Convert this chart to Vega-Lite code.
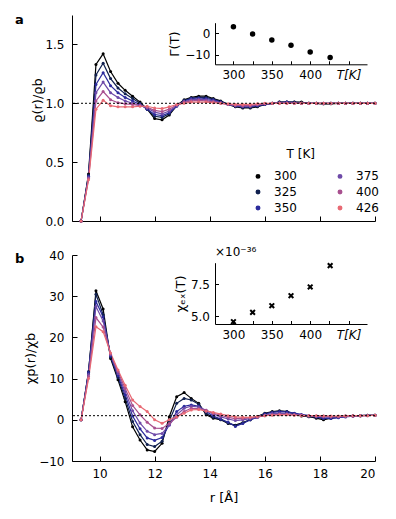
{
"$schema": "https://vega.github.io/schema/vega-lite/v6.json",
"padding": {"left": 15, "top": 14, "right": 5, "bottom": 5},
"config": {
  "font": "DejaVu Sans",
  "view": {"stroke": null},
  "axis": {"grid": false, "domainColor": "#000", "tickColor": "#000", "labelColor": "#000", "titleColor": "#000", "labelFontSize": 12, "titleFontSize": 13, "titleFontWeight": "normal", "domainWidth": 1, "tickWidth": 1}
},
"datasets": {
"prof": [
{"T":"300","r":9.33,"rho":0,"chi":0},{"T":"300","r":9.6,"rho":0.4,"chi":11.5},{"T":"300","r":9.87,"rho":1.33,"chi":31.3},{"T":"300","r":10.13,"rho":1.42,"chi":26.9},{"T":"300","r":10.4,"rho":1.27,"chi":14.9},{"T":"300","r":10.67,"rho":1.17,"chi":9.7},{"T":"300","r":10.93,"rho":1.11,"chi":4.4},{"T":"300","r":11.2,"rho":1.06,"chi":-1.7},{"T":"300","r":11.47,"rho":1.01,"chi":-4.9},{"T":"300","r":11.73,"rho":0.95,"chi":-7.3},{"T":"300","r":12,"rho":0.87,"chi":-7.7},{"T":"300","r":12.27,"rho":0.86,"chi":-5.7},{"T":"300","r":12.53,"rho":0.9,"chi":0.75},{"T":"300","r":12.8,"rho":0.98,"chi":5.6},{"T":"300","r":13.07,"rho":1.03,"chi":6.6},{"T":"300","r":13.33,"rho":1.05,"chi":5.2},{"T":"300","r":13.6,"rho":1.06,"chi":4.0},{"T":"300","r":13.87,"rho":1.06,"chi":1.2},{"T":"300","r":14.13,"rho":1.04,"chi":0.4},{"T":"300","r":14.4,"rho":1.02,"chi":0},{"T":"300","r":14.67,"rho":0.99,"chi":-0.9},{"T":"300","r":14.93,"rho":0.97,"chi":-1.3},{"T":"300","r":15.2,"rho":0.96,"chi":-0.7},{"T":"300","r":15.47,"rho":0.96,"chi":0},{"T":"300","r":15.73,"rho":0.97,"chi":0.8},{"T":"300","r":16,"rho":0.99,"chi":1.6},{"T":"300","r":16.27,"rho":1.0,"chi":2.0},{"T":"300","r":16.53,"rho":1.01,"chi":2.2},{"T":"300","r":16.8,"rho":1.01,"chi":2.0},{"T":"300","r":17.07,"rho":1.01,"chi":1.4},{"T":"300","r":17.33,"rho":1.01,"chi":0.9},{"T":"300","r":17.6,"rho":1.0,"chi":0.75},{"T":"300","r":17.87,"rho":1.0,"chi":0.4},{"T":"300","r":18.13,"rho":0.995,"chi":0},{"T":"300","r":18.4,"rho":0.995,"chi":0.4},{"T":"300","r":18.67,"rho":1.0,"chi":0.8},{"T":"300","r":18.93,"rho":1.0,"chi":0.9},{"T":"300","r":19.2,"rho":1.0,"chi":1.0},{"T":"300","r":19.47,"rho":1.0,"chi":1.0},{"T":"300","r":19.73,"rho":1.0,"chi":1.1},{"T":"300","r":20,"rho":1.0,"chi":1.1},
{"T":"325","r":9.33,"rho":0,"chi":0},{"T":"325","r":9.6,"rho":0.39,"chi":11.7},{"T":"325","r":9.87,"rho":1.24,"chi":30.5},{"T":"325","r":10.13,"rho":1.34,"chi":25.5},{"T":"325","r":10.4,"rho":1.21,"chi":15.2},{"T":"325","r":10.67,"rho":1.13,"chi":10.2},{"T":"325","r":10.93,"rho":1.08,"chi":5.2},{"T":"325","r":11.2,"rho":1.04,"chi":-0.4},{"T":"325","r":11.47,"rho":1.0,"chi":-3.6},{"T":"325","r":11.73,"rho":0.95,"chi":-6.0},{"T":"325","r":12,"rho":0.89,"chi":-6.5},{"T":"325","r":12.27,"rho":0.88,"chi":-5.2},{"T":"325","r":12.53,"rho":0.91,"chi":-0.3},{"T":"325","r":12.8,"rho":0.98,"chi":4.0},{"T":"325","r":13.07,"rho":1.025,"chi":5.2},{"T":"325","r":13.33,"rho":1.045,"chi":4.8},{"T":"325","r":13.6,"rho":1.05,"chi":3.8},{"T":"325","r":13.87,"rho":1.05,"chi":1.5},{"T":"325","r":14.13,"rho":1.035,"chi":0.6},{"T":"325","r":14.4,"rho":1.015,"chi":0.1},{"T":"325","r":14.67,"rho":0.99,"chi":-0.8},{"T":"325","r":14.93,"rho":0.975,"chi":-1.4},{"T":"325","r":15.2,"rho":0.965,"chi":-0.8},{"T":"325","r":15.47,"rho":0.965,"chi":0},{"T":"325","r":15.73,"rho":0.975,"chi":0.7},{"T":"325","r":16,"rho":0.99,"chi":1.5},{"T":"325","r":16.27,"rho":1.0,"chi":1.9},{"T":"325","r":16.53,"rho":1.01,"chi":2.1},{"T":"325","r":16.8,"rho":1.01,"chi":2.0},{"T":"325","r":17.07,"rho":1.01,"chi":1.5},{"T":"325","r":17.33,"rho":1.005,"chi":1.1},{"T":"325","r":17.6,"rho":1.0,"chi":0.8},{"T":"325","r":17.87,"rho":1.0,"chi":0.6},{"T":"325","r":18.13,"rho":0.995,"chi":0.3},{"T":"325","r":18.4,"rho":1.0,"chi":0.4},{"T":"325","r":18.67,"rho":1.0,"chi":0.6},{"T":"325","r":18.93,"rho":1.0,"chi":0.8},{"T":"325","r":19.2,"rho":1.0,"chi":0.9},{"T":"325","r":19.47,"rho":1.0,"chi":1.0},{"T":"325","r":19.73,"rho":1.0,"chi":1.1},{"T":"325","r":20,"rho":1.0,"chi":1.1},
{"T":"350","r":9.33,"rho":0,"chi":0},{"T":"350","r":9.6,"rho":0.38,"chi":11.5},{"T":"350","r":9.87,"rho":1.16,"chi":28.7},{"T":"350","r":10.13,"rho":1.26,"chi":25.0},{"T":"350","r":10.4,"rho":1.15,"chi":15.5},{"T":"350","r":10.67,"rho":1.09,"chi":10.7},{"T":"350","r":10.93,"rho":1.05,"chi":6.0},{"T":"350","r":11.2,"rho":1.02,"chi":0.9},{"T":"350","r":11.47,"rho":0.99,"chi":-2.2},{"T":"350","r":11.73,"rho":0.95,"chi":-4.4},{"T":"350","r":12,"rho":0.905,"chi":-5.0},{"T":"350","r":12.27,"rho":0.895,"chi":-4.3},{"T":"350","r":12.53,"rho":0.92,"chi":-1.2},{"T":"350","r":12.8,"rho":0.975,"chi":2.0},{"T":"350","r":13.07,"rho":1.02,"chi":3.3},{"T":"350","r":13.33,"rho":1.04,"chi":3.6},{"T":"350","r":13.6,"rho":1.045,"chi":3.3},{"T":"350","r":13.87,"rho":1.04,"chi":2.0},{"T":"350","r":14.13,"rho":1.03,"chi":0.9},{"T":"350","r":14.4,"rho":1.01,"chi":0.2},{"T":"350","r":14.67,"rho":0.99,"chi":-0.6},{"T":"350","r":14.93,"rho":0.977,"chi":-1.6},{"T":"350","r":15.2,"rho":0.97,"chi":-0.9},{"T":"350","r":15.47,"rho":0.97,"chi":0},{"T":"350","r":15.73,"rho":0.98,"chi":0.6},{"T":"350","r":16,"rho":0.99,"chi":1.4},{"T":"350","r":16.27,"rho":1.0,"chi":1.8},{"T":"350","r":16.53,"rho":1.005,"chi":2.0},{"T":"350","r":16.8,"rho":1.01,"chi":1.9},{"T":"350","r":17.07,"rho":1.005,"chi":1.6},{"T":"350","r":17.33,"rho":1.0,"chi":1.3},{"T":"350","r":17.6,"rho":1.0,"chi":1.0},{"T":"350","r":17.87,"rho":1.0,"chi":0.7},{"T":"350","r":18.13,"rho":1.0,"chi":0.4},{"T":"350","r":18.4,"rho":1.0,"chi":0.3},{"T":"350","r":18.67,"rho":1.0,"chi":0.5},{"T":"350","r":18.93,"rho":1.0,"chi":0.7},{"T":"350","r":19.2,"rho":1.0,"chi":0.9},{"T":"350","r":19.47,"rho":1.0,"chi":1.0},{"T":"350","r":19.73,"rho":1.0,"chi":1.05},{"T":"350","r":20,"rho":1.0,"chi":1.1},
{"T":"375","r":9.33,"rho":0,"chi":0},{"T":"375","r":9.6,"rho":0.37,"chi":11.0},{"T":"375","r":9.87,"rho":1.09,"chi":27.5},{"T":"375","r":10.13,"rho":1.18,"chi":24.0},{"T":"375","r":10.4,"rho":1.09,"chi":15.8},{"T":"375","r":10.67,"rho":1.05,"chi":11.2},{"T":"375","r":10.93,"rho":1.02,"chi":6.8},{"T":"375","r":11.2,"rho":1.0,"chi":2.2},{"T":"375","r":11.47,"rho":0.985,"chi":-0.8},{"T":"375","r":11.73,"rho":0.96,"chi":-2.8},{"T":"375","r":12,"rho":0.925,"chi":-3.6},{"T":"375","r":12.27,"rho":0.91,"chi":-3.3},{"T":"375","r":12.53,"rho":0.935,"chi":-1.3},{"T":"375","r":12.8,"rho":0.98,"chi":1.2},{"T":"375","r":13.07,"rho":1.015,"chi":2.8},{"T":"375","r":13.33,"rho":1.03,"chi":3.3},{"T":"375","r":13.6,"rho":1.035,"chi":3.1},{"T":"375","r":13.87,"rho":1.03,"chi":2.3},{"T":"375","r":14.13,"rho":1.02,"chi":1.4},{"T":"375","r":14.4,"rho":1.005,"chi":0.7},{"T":"375","r":14.67,"rho":0.99,"chi":0.2},{"T":"375","r":14.93,"rho":0.98,"chi":-0.2},{"T":"375","r":15.2,"rho":0.975,"chi":0},{"T":"375","r":15.47,"rho":0.975,"chi":0.3},{"T":"375","r":15.73,"rho":0.985,"chi":0.6},{"T":"375","r":16,"rho":0.995,"chi":1.1},{"T":"375","r":16.27,"rho":1.0,"chi":1.5},{"T":"375","r":16.53,"rho":1.005,"chi":1.6},{"T":"375","r":16.8,"rho":1.005,"chi":1.5},{"T":"375","r":17.07,"rho":1.0,"chi":1.3},{"T":"375","r":17.33,"rho":1.0,"chi":1.1},{"T":"375","r":17.6,"rho":1.0,"chi":0.9},{"T":"375","r":17.87,"rho":1.0,"chi":0.8},{"T":"375","r":18.13,"rho":1.0,"chi":0.7},{"T":"375","r":18.4,"rho":1.0,"chi":0.6},{"T":"375","r":18.67,"rho":1.0,"chi":0.7},{"T":"375","r":18.93,"rho":1.0,"chi":0.8},{"T":"375","r":19.2,"rho":1.0,"chi":0.9},{"T":"375","r":19.47,"rho":1.0,"chi":1.0},{"T":"375","r":19.73,"rho":1.0,"chi":1.0},{"T":"375","r":20,"rho":1.0,"chi":1.1},
{"T":"400","r":9.33,"rho":0,"chi":0},{"T":"400","r":9.6,"rho":0.36,"chi":10.5},{"T":"400","r":9.87,"rho":1.02,"chi":24.8},{"T":"400","r":10.13,"rho":1.1,"chi":22.5},{"T":"400","r":10.4,"rho":1.03,"chi":16.0},{"T":"400","r":10.67,"rho":1.005,"chi":11.7},{"T":"400","r":10.93,"rho":0.995,"chi":7.6},{"T":"400","r":11.2,"rho":0.99,"chi":3.5},{"T":"400","r":11.47,"rho":0.98,"chi":1.2},{"T":"400","r":11.73,"rho":0.965,"chi":-0.6},{"T":"400","r":12,"rho":0.94,"chi":-2.0},{"T":"400","r":12.27,"rho":0.93,"chi":-2.1},{"T":"400","r":12.53,"rho":0.95,"chi":-0.9},{"T":"400","r":12.8,"rho":0.985,"chi":0.6},{"T":"400","r":13.07,"rho":1.01,"chi":2.0},{"T":"400","r":13.33,"rho":1.02,"chi":2.8},{"T":"400","r":13.6,"rho":1.025,"chi":2.7},{"T":"400","r":13.87,"rho":1.02,"chi":2.3},{"T":"400","r":14.13,"rho":1.012,"chi":1.6},{"T":"400","r":14.4,"rho":1.0,"chi":1.1},{"T":"400","r":14.67,"rho":0.99,"chi":0.6},{"T":"400","r":14.93,"rho":0.985,"chi":0.3},{"T":"400","r":15.2,"rho":0.98,"chi":0.3},{"T":"400","r":15.47,"rho":0.98,"chi":0.5},{"T":"400","r":15.73,"rho":0.99,"chi":0.7},{"T":"400","r":16,"rho":0.995,"chi":1.0},{"T":"400","r":16.27,"rho":1.0,"chi":1.2},{"T":"400","r":16.53,"rho":1.0,"chi":1.3},{"T":"400","r":16.8,"rho":1.0,"chi":1.3},{"T":"400","r":17.07,"rho":1.0,"chi":1.2},{"T":"400","r":17.33,"rho":1.0,"chi":1.1},{"T":"400","r":17.6,"rho":1.0,"chi":1.0},{"T":"400","r":17.87,"rho":1.0,"chi":0.9},{"T":"400","r":18.13,"rho":1.0,"chi":0.9},{"T":"400","r":18.4,"rho":1.0,"chi":0.8},{"T":"400","r":18.67,"rho":1.0,"chi":0.8},{"T":"400","r":18.93,"rho":1.0,"chi":0.9},{"T":"400","r":19.2,"rho":1.0,"chi":0.9},{"T":"400","r":19.47,"rho":1.0,"chi":1.0},{"T":"400","r":19.73,"rho":1.0,"chi":1.05},{"T":"400","r":20,"rho":1.0,"chi":1.1},
{"T":"426","r":9.33,"rho":0,"chi":0},{"T":"426","r":9.6,"rho":0.35,"chi":10.0},{"T":"426","r":9.87,"rho":0.95,"chi":22.6},{"T":"426","r":10.13,"rho":1.025,"chi":21.4},{"T":"426","r":10.4,"rho":0.98,"chi":16.2},{"T":"426","r":10.67,"rho":0.97,"chi":12.1},{"T":"426","r":10.93,"rho":0.97,"chi":8.4},{"T":"426","r":11.2,"rho":0.97,"chi":4.8},{"T":"426","r":11.47,"rho":0.975,"chi":3.2},{"T":"426","r":11.73,"rho":0.975,"chi":2.0},{"T":"426","r":12,"rho":0.96,"chi":0},{"T":"426","r":12.27,"rho":0.955,"chi":-0.85},{"T":"426","r":12.53,"rho":0.97,"chi":0},{"T":"426","r":12.8,"rho":0.99,"chi":0.75},{"T":"426","r":13.07,"rho":1.0,"chi":1.6},{"T":"426","r":13.33,"rho":1.01,"chi":2.4},{"T":"426","r":13.6,"rho":1.01,"chi":2.5},{"T":"426","r":13.87,"rho":1.01,"chi":2.1},{"T":"426","r":14.13,"rho":1.005,"chi":1.8},{"T":"426","r":14.4,"rho":1.0,"chi":1.4},{"T":"426","r":14.67,"rho":0.995,"chi":1.0},{"T":"426","r":14.93,"rho":0.99,"chi":0.7},{"T":"426","r":15.2,"rho":0.99,"chi":0.6},{"T":"426","r":15.47,"rho":0.99,"chi":0.6},{"T":"426","r":15.73,"rho":0.995,"chi":0.8},{"T":"426","r":16,"rho":1.0,"chi":1.0},{"T":"426","r":16.27,"rho":1.0,"chi":1.1},{"T":"426","r":16.53,"rho":1.0,"chi":1.2},{"T":"426","r":16.8,"rho":1.0,"chi":1.2},{"T":"426","r":17.07,"rho":1.0,"chi":1.1},{"T":"426","r":17.33,"rho":1.0,"chi":1.0},{"T":"426","r":17.6,"rho":1.0,"chi":1.0},{"T":"426","r":17.87,"rho":1.0,"chi":1.0},{"T":"426","r":18.13,"rho":1.0,"chi":0.95},{"T":"426","r":18.4,"rho":1.0,"chi":0.9},{"T":"426","r":18.67,"rho":1.0,"chi":0.9},{"T":"426","r":18.93,"rho":1.0,"chi":0.95},{"T":"426","r":19.2,"rho":1.0,"chi":1.0},{"T":"426","r":19.47,"rho":1.0,"chi":1.0},{"T":"426","r":19.73,"rho":1.0,"chi":1.0},{"T":"426","r":20,"rho":1.0,"chi":1.1}
],
"ins": [
{"T":300,"G":3.0,"X":4.55},{"T":325,"G":-0.3,"X":5.29},{"T":350,"G":-3.1,"X":5.81},{"T":375,"G":-5.5,"X":6.6},{"T":400,"G":-8.6,"X":7.29},{"T":426,"G":-11.2,"X":8.97}
]
},
"bounds": "flush",
"spacing": 34,
"resolve": {"scale": {"color": "independent"}, "legend": {"color": "independent"}},
"vconcat": [
{
  "width": 303, "height": 206,
  "title": {"text": "a", "anchor": "start", "frame": "group", "fontSize": 13, "fontWeight": "bold", "baseline": "alphabetic", "offset": -13.5, "dx": -57, "dy": 8.5, "color": "#000"},
  "layer": [
    {"layer": [
      {"data": {"name": "prof"},
       "mark": {"type": "line", "strokeWidth": 1.2, "point": {"filled": true, "size": 9}},
       "encoding": {
         "x": {"field": "r", "type": "quantitative", "scale": {"domain": [9, 20], "nice": false, "zero": false}, "axis": {"orient": "bottom", "values": [10, 12, 14, 16, 18, 20], "labels": false, "title": null, "tickSize": -5}},
         "y": {"field": "rho", "type": "quantitative", "scale": {"domain": [0, 1.75], "nice": false}, "axis": {"orient": "left", "values": [0, 0.5, 1, 1.5], "format": ".1f", "tickSize": -5, "labelPadding": 13, "title": "ϱ(r)/ϱb", "titlePadding": 0, "titleY": 85}},
         "color": {"field": "T", "type": "nominal",
           "scale": {"domain": ["300", "325", "350", "375", "400", "426"], "range": ["#000000", "#10204f", "#2b2b9c", "#6e4aa8", "#a8508f", "#e86a74"]},
           "legend": {"orient": "none", "legendX": 180, "legendY": 134, "columns": 2, "title": "T [K]", "titleFontSize": 12, "titleFontWeight": "normal", "titleColor": "#000", "titleAnchor": "middle", "titleAlign": "right", "titlePadding": 9, "labelFontSize": 12, "labelColor": "#000", "symbolType": "circle", "symbolSize": 6, "symbolStrokeWidth": 2.5, "labelOffset": 10, "columnPadding": 36, "rowPadding": 2, "padding": 0}}
       }},
      {"data": {"values": [{}]}, "mark": {"type": "rule", "strokeDash": [2, 2], "color": "#000", "strokeWidth": 1}, "encoding": {"y": {"datum": 1}}}
    ]},
    {"data": {"name": "ins"},
     "mark": {"type": "point", "filled": true, "size": 30, "color": "#000", "opacity": 1},
     "encoding": {
       "x": {"field": "T", "type": "quantitative", "scale": {"domain": [276, 474], "range": [143, 295], "nice": false, "zero": false}, "axis": {"orient": "bottom", "offset": -156.7, "values": [300, 325, 350, 375, 400, 425, 450], "labelExpr": "datum.value == 450 ? 'T[K]' : (datum.value % 50 == 0 ? datum.label : '')", "labelFontStyle": {"condition": {"test": "datum.value == 450", "value": "italic"}, "value": "normal"}, "tickSize": -3.5, "labelPadding": 8.5, "title": null}},
       "y": {"field": "G", "type": "quantitative", "scale": {"domain": [-14.3, 4.9], "range": [49.3, 7.7], "nice": false, "zero": false}, "axis": {"orient": "left", "offset": -143, "values": [-10, 0], "tickSize": -3.5, "labelPadding": 8.5, "title": "Γ(T)", "titlePadding": 3}}
     }}
  ],
  "resolve": {"scale": {"x": "independent", "y": "independent"}}
},
{
  "width": 303, "height": 206,
  "title": {"text": "b", "anchor": "start", "frame": "group", "fontSize": 13, "fontWeight": "bold", "baseline": "alphabetic", "offset": -15, "dx": -57, "dy": 15, "color": "#000"},
  "layer": [
    {"layer": [
      {"data": {"name": "prof"},
       "mark": {"type": "line", "strokeWidth": 1.2, "point": {"filled": true, "size": 9}},
       "encoding": {
         "x": {"field": "r", "type": "quantitative", "scale": {"domain": [9, 20], "nice": false, "zero": false}, "axis": {"orient": "bottom", "values": [10, 12, 14, 16, 18, 20], "tickSize": -5, "labelPadding": 12, "title": "r [Å]", "titlePadding": 12}},
         "y": {"field": "chi", "type": "quantitative", "scale": {"domain": [-10, 40], "nice": false, "zero": false}, "axis": {"orient": "left", "values": [-10, 0, 10, 20, 30, 40], "tickSize": -5, "labelPadding": 13, "title": "χp(r)/χb", "titlePadding": 1}},
         "color": {"field": "T", "type": "nominal",
           "scale": {"domain": ["300", "325", "350", "375", "400", "426"], "range": ["#000000", "#10204f", "#2b2b9c", "#6e4aa8", "#a8508f", "#e86a74"]},
           "legend": null}
       }},
      {"data": {"values": [{}]}, "mark": {"type": "rule", "strokeDash": [2, 2], "color": "#000", "strokeWidth": 1}, "encoding": {"y": {"datum": 1}}}
    ]},
    {"data": {"name": "ins"},
     "layer": [
      {"mark": {"type": "point", "shape": "M-1,-1L1,1M-1,1L1,-1", "filled": false, "size": 22, "strokeWidth": 2, "color": "#000", "opacity": 1},
       "encoding": {
         "x": {"field": "T", "type": "quantitative", "scale": {"domain": [276, 474], "range": [143, 295], "nice": false, "zero": false}, "axis": {"orient": "bottom", "offset": -137, "values": [300, 325, 350, 375, 400, 425, 450], "labelExpr": "datum.value == 450 ? 'T[K]' : (datum.value % 50 == 0 ? datum.label : '')", "labelFontStyle": {"condition": {"test": "datum.value == 450", "value": "italic"}, "value": "normal"}, "tickSize": -3.5, "labelPadding": 8.5, "title": null}},
         "y": {"field": "X", "type": "quantitative", "scale": {"domain": [4.37, 9.2], "range": [69, 7.7], "nice": false, "zero": false}, "axis": {"orient": "left", "offset": -143, "values": [5, 7.5], "format": ".1f", "tickSize": -3.5, "labelPadding": 9, "title": "χₑₓ(T)", "titlePadding": 3}}
       }},
      {"data": {"values": [{"lab": "×10⁻³⁶"}]},
       "mark": {"type": "text", "align": "left", "baseline": "alphabetic", "fontSize": 12, "dy": -7, "color": "#000"},
       "encoding": {"x": {"datum": 276}, "y": {"datum": 9.2}, "text": {"field": "lab"}}}
     ]}
  ],
  "resolve": {"scale": {"x": "independent", "y": "independent"}}
}
]
}
